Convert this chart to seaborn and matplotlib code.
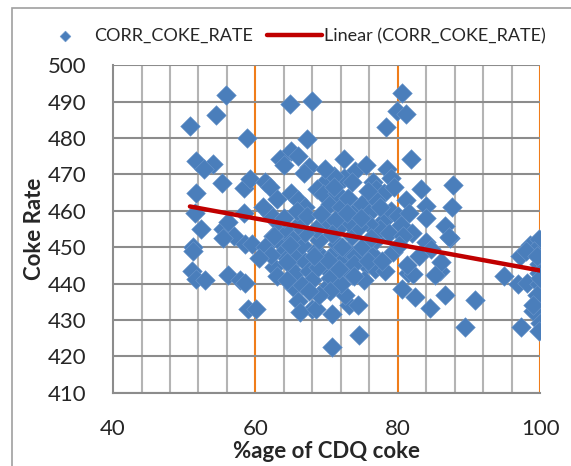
import numpy as np
import pandas as pd
import matplotlib
matplotlib.use("Agg")
import matplotlib.pyplot as plt
import seaborn as sns
from matplotlib.ticker import MultipleLocator
from matplotlib.patches import Rectangle

# data (x = %age of CDQ coke, y = coke rate)
cdq_left = [50.8, 51.6, 54.0, 52.8, 54.5, 55.9, 55.3, 58.4, 51.7, 51.5, 58.4, 52.4, 55.4,
            56.2, 57.0, 51.3, 58.5, 55.4, 51.3, 51.1, 51.7, 52.9, 56.1, 57.9, 59.0, 58.5]
rate_left = [483.4, 473.8, 472.9, 471.4, 486.3, 491.7, 467.7, 466.2, 465.0, 459.5, 459.5, 455.0, 455.1,
             457.0, 453.0, 450.0, 451.0, 452.5, 449.0, 443.6, 441.4, 441.0, 442.3, 441.0, 433.0, 440.3]

cdq_mid = [58.8, 64.9, 68.0, 67.2, 65.0, 63.5, 66.0, 64.0, 67.5, 72.4, 74.0, 75.5, 78.5,
           72.5, 70.0, 71.0, 73.5, 76.5, 77.0, 78.0, 79.0, 79.5, 59.3, 61.4, 62.0, 63.0,
           65.0, 66.0, 67.0, 68.6, 69.5, 70.5, 71.5, 72.0, 73.0, 74.0, 75.0, 76.0, 77.0,
           78.0, 79.0, 80.0, 62.5, 63.5, 64.0, 64.5, 65.0, 65.5, 66.0, 66.5, 67.0, 67.5,
           68.0, 68.5, 69.0, 69.5, 70.0, 70.5, 71.0, 71.5, 72.0, 72.5, 73.0, 73.5, 74.0,
           75.0, 75.5, 76.5, 77.0, 77.5, 76.0, 74.5, 73.0, 71.5, 70.0, 68.5, 67.0, 66.0,
           65.0, 64.0, 63.0, 62.0, 61.0, 59.5, 61.4, 62.6, 60.1, 62.6, 64.4, 65.3, 66.0,
           68.0, 69.6, 70.8, 73.1, 72.6, 73.5, 74.6, 70.8, 66.3, 68.5, 72.0, 70.5, 69.0,
           63.0, 64.5, 66.5, 67.5, 68.8, 70.2, 71.8, 73.8, 75.2, 76.8, 78.2, 79.3, 75.8,
           77.8, 74.4, 73.9, 64.0, 65.8, 67.2, 69.2, 71.2, 72.8, 74.8, 76.2, 78.8, 62.2,
           60.5, 64.8, 68.2, 70.8, 72.2, 66.8, 69.8, 71.0, 75.8, 77.5]
rate_mid = [480.0, 489.3, 490.2, 479.7, 476.5, 474.2, 475.0, 472.5, 472.0, 474.2, 471.0, 472.5, 471.5,
            469.0, 468.5, 469.5, 468.0, 468.0, 466.0, 465.0, 469.0, 466.5, 468.8, 467.9, 466.5, 463.3,
            465.0, 463.0, 461.0, 466.0, 464.5, 462.0, 465.0, 461.0, 463.5, 460.0, 462.0, 459.5, 463.0,
            457.5, 460.0, 458.5, 453.0, 451.5, 449.0, 447.0, 445.5, 443.0, 448.0, 450.5, 446.0, 443.5,
            441.0, 449.0, 452.0, 447.0, 444.0, 441.5, 448.5, 451.0, 446.0, 443.0, 449.0, 453.0, 447.5,
            450.0, 445.0, 448.0, 452.0, 455.0, 456.5, 455.5, 457.0, 455.0, 456.5, 455.0, 454.0, 456.0,
            452.5, 455.0, 457.0, 459.0, 461.0, 451.0, 450.0, 453.0, 433.0, 444.5, 446.0, 439.0, 435.3,
            433.0, 438.2, 431.7, 434.0, 437.0, 442.3, 426.0, 422.6, 432.2, 433.0, 440.0, 438.0, 437.0,
            442.0, 441.0, 439.5, 438.0, 444.5, 446.5, 444.0, 445.5, 441.0, 444.0, 443.5, 448.6, 446.3,
            446.3, 434.0, 442.0, 458.0, 460.0, 458.5, 459.0, 457.5, 459.5, 458.0, 452.5, 454.0, 448.0,
            447.0, 450.5, 447.5, 453.5, 450.0, 470.5, 471.5, 466.5, 465.5, 461.0]

cdq_right = [80.6, 79.9, 81.2, 78.4, 81.8, 83.3, 87.8, 84.0, 87.6, 84.0, 86.6, 87.3, 84.0,
             81.2, 81.6, 80.5, 82.0, 84.6, 81.5, 82.2, 80.6, 82.4, 84.5, 86.6, 85.9, 86.1,
             87.2, 89.5, 90.9, 80.7, 81.3, 85.2, 83.0, 80.2]
rate_right = [492.3, 487.5, 486.6, 482.9, 474.3, 466.0, 467.0, 461.4, 461.0, 458.0, 455.7, 452.5, 451.4,
              463.0, 459.5, 456.0, 454.0, 449.5, 443.0, 442.6, 438.5, 436.2, 433.4, 437.0, 443.5, 446.0,
              452.8, 428.0, 435.6, 453.0, 445.0, 442.5, 447.5, 450.5]

cdq_far = [94.9, 96.9, 98.1, 97.2, 98.6, 99.8, 99.2, 99.8, 99.9, 99.8, 99.8, 99.0, 100.0,
           97.3, 99.8, 98.0, 99.5, 100.0, 99.5, 99.0]
rate_far = [442.2, 439.8, 440.3, 447.7, 450.5, 452.3, 449.0, 445.4, 443.0, 439.8, 435.2, 432.4, 429.3,
            428.0, 427.0, 449.0, 447.5, 441.5, 437.0, 434.0]

# excel linear trendline end points
trend_x = [50.8, 100.0]
trend_y = [461.2, 443.6]

df = pd.DataFrame({
    "cdq": cdq_left + cdq_mid + cdq_right + cdq_far,
    "rate": rate_left + rate_mid + rate_right + rate_far,
})

blue = "#4A7EBB"
red = "#C00000"
orange = "#F07D1A"

sns.set_style("white")
plt.rcParams["font.family"] = ["Lato", "DejaVu Sans"]

fig = plt.figure(figsize=(5.71, 4.66), dpi=100)
ax = fig.add_axes([0.198, 0.157, 0.946 - 0.198, 0.860 - 0.157])

sns.scatterplot(data=df, x="cdq", y="rate", marker="D", s=100, color=blue,
                edgecolor="#6B96CB", linewidth=0.4, ax=ax, label="CORR_COKE_RATE", zorder=3)
sns.lineplot(x=trend_x, y=trend_y, color=red, linewidth=3.2, ax=ax,
             label="Linear (CORR_COKE_RATE)", zorder=4)

ax.set_xlim(40, 100)
ax.set_ylim(410, 500)
ax.set_xticks([40, 60, 80, 100])
ax.set_yticks(np.arange(410, 501, 10))
ax.xaxis.set_minor_locator(MultipleLocator(4))
ax.set_axisbelow(True)
ax.grid(which="minor", axis="x", color="#B4B4B4", linewidth=1.5)
ax.grid(which="major", axis="x", color=orange, linewidth=1.5)
ax.grid(which="major", axis="y", color="#8C8C8C", linewidth=1.5)
ax.get_xgridlines()[0].set_visible(False)

for side in ["top", "right"]:
    ax.spines[side].set_visible(False)
for side in ["left", "bottom"]:
    ax.spines[side].set_color("#8C8C8C")
    ax.spines[side].set_linewidth(1.5)
    ax.spines[side].set_zorder(2)

ax.tick_params(which="major", direction="out", length=6, width=1.5, color="#8C8C8C",
               labelsize=16)
ax.tick_params(axis="y", pad=13)
ax.tick_params(axis="x", pad=13)
ax.tick_params(which="minor", length=0)

ax.set_xlabel("%age of CDQ coke", fontsize=16, fontweight="bold", labelpad=1)
ax.set_ylabel("Coke Rate", fontsize=16, fontweight="bold", labelpad=2)

handles, labels = ax.get_legend_handles_labels()
ax.legend_.remove()
fig.legend(handles, labels, loc="center", bbox_to_anchor=(0.511, 0.923), ncol=2,
           frameon=False, fontsize=13, handlelength=3.05, handletextpad=0.1,
           columnspacing=0.78, markerscale=0.55)

fig.add_artist(Rectangle((12 / 571, -0.1), 1.2, 1 - 8 / 466 + 0.1, transform=fig.transFigure,
                         fill=False, edgecolor="#A0A0A0", linewidth=1.2))

fig.savefig("out.png", dpi=100)
